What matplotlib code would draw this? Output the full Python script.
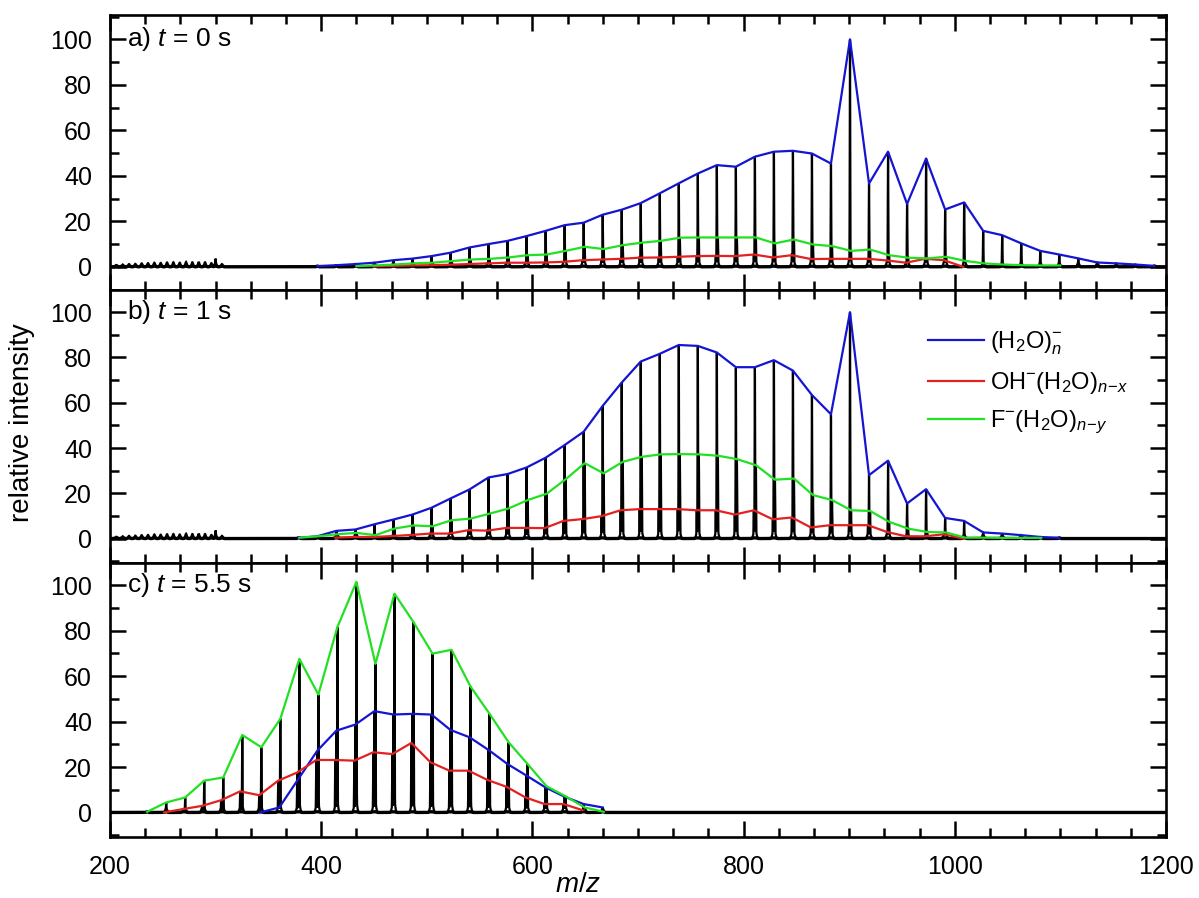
import numpy as np
import matplotlib
matplotlib.use("Agg")
import matplotlib.pyplot as plt
import matplotlib.transforms as mtransforms
from matplotlib.ticker import MultipleLocator

plt.rcParams['font.family'] = ['Liberation Sans', 'DejaVu Sans']
plt.rcParams['mathtext.fontset'] = 'custom'
plt.rcParams['mathtext.rm'] = 'Liberation Sans'
plt.rcParams['mathtext.it'] = 'Liberation Sans:italic'
plt.rcParams['mathtext.bf'] = 'Liberation Sans:bold'

# ---------------- data (relative intensities) ----------------
# cluster sizes n and envelope heights for each panel
A_BLUE_N = list(range(22, 67))
A_BLUE = [0.3, 0.7, 1.2, 1.8, 2.9, 3.6, 4.7, 6.2, 8.5, 10.0, 11.4, 13.5, 15.8, 18.3, 19.4,
          22.9, 25.1, 28.0, 32.3, 36.7, 41.0, 44.7, 44.0, 48.4, 50.6, 51.0, 49.8, 45.4, 100.0,
          36.6, 50.6, 27.6, 47.6, 25.2, 28.3, 15.8, 13.9, 10.3, 7.0, 5.4, 3.7, 1.9, 1.5, 1.0, 0.4]
A_RED_N = list(range(25, 57))
A_RED = [0.2, 0.4, 0.6, 0.7, 0.9, 1.2, 1.5, 1.8, 1.8, 1.9, 2.2, 2.9, 3.2, 3.5, 4.0, 4.1,
         4.4, 4.7, 4.8, 4.7, 5.4, 4.1, 5.1, 3.4, 3.5, 3.5, 3.5, 2.8, 1.8, 3.5, 2.9, 0.0]
A_GREEN_N = list(range(24, 62))
A_GREEN = [0.3, 0.6, 1.0, 1.5, 1.8, 2.5, 3.2, 3.5, 4.1, 5.1, 5.4, 7.0, 8.8, 7.8, 9.5, 10.6,
           11.4, 12.8, 12.9, 12.9, 12.9, 12.9, 10.3, 12.0, 9.8, 9.1, 7.0, 7.6, 5.1, 4.0, 3.7,
           4.4, 2.6, 1.5, 1.0, 0.7, 0.6, 0.6]

B_BLUE_N = list(range(21, 62))
B_BLUE = [0.3, 1.0, 3.4, 4.0, 6.3, 8.4, 10.6, 13.6, 17.7, 21.7, 27.0, 28.5, 31.4, 35.7, 41.3,
          47.2, 58.6, 68.9, 78.2, 81.6, 85.5, 85.1, 82.2, 75.7, 75.7, 78.8, 74.2, 63.4, 54.9,
          100.0, 28.0, 34.4, 15.5, 21.8, 9.1, 7.8, 2.7, 2.2, 1.5, 0.7, 0.3]
B_RED_N = list(range(23, 57))
B_RED = [0.4, 0.7, 0.7, 1.1, 1.6, 2.2, 2.2, 3.7, 3.5, 4.7, 4.7, 4.6, 7.8, 8.6, 9.9, 12.5,
         13.0, 13.0, 13.0, 12.5, 12.5, 10.6, 12.5, 8.5, 9.3, 4.9, 5.9, 5.9, 5.9, 2.9, 1.0,
         1.0, 1.9, 0.0]
B_GREEN_N = list(range(21, 61))
B_GREEN = [0.4, 1.0, 1.9, 2.5, 1.5, 4.4, 5.8, 5.4, 8.1, 8.8, 11.0, 13.3, 17.0, 19.8, 26.2,
           33.3, 28.8, 33.9, 36.1, 37.2, 37.3, 37.2, 36.6, 35.1, 32.4, 26.0, 26.5, 19.2, 17.0,
           12.5, 12.2, 7.4, 4.4, 2.9, 2.7, 0.4, 0.4, 0.3, 0.3, 0.3]

C_BLUE_N = list(range(19, 38))
C_BLUE = [0.0, 2.2, 14.7, 27.2, 36.0, 38.7, 44.6, 43.1, 43.4, 43.1, 36.3, 33.1, 27.5, 21.3,
          16.2, 11.0, 6.9, 3.7, 2.2]
C_RED_N = list(range(14, 37))
C_RED = [0.0, 1.5, 2.9, 5.4, 9.3, 7.6, 14.0, 17.6, 23.1, 23.1, 22.8, 26.5, 25.7, 30.6, 22.1,
         18.4, 18.4, 14.3, 11.3, 6.6, 3.7, 3.7, 1.0]
C_GREEN_N = list(range(13, 38))
C_GREEN = [0.3, 4.4, 6.6, 14.0, 15.4, 34.1, 28.7, 41.2, 67.6, 51.9, 81.6, 101.5, 65.4, 96.3,
           83.8, 69.9, 71.6, 55.4, 43.4, 30.9, 21.3, 11.5, 7.1, 2.2, 0.3]

# small low-mass peaks present in panels a and b
LOW_MZ = [206, 212, 218, 224, 230, 236, 242, 248, 254, 260, 266, 272, 278, 284, 290, 296, 300, 306]
LOW_INT = [0.8, 1.0, 1.2, 1.3, 1.5, 1.6, 1.8, 1.7, 1.9, 2.0, 1.8, 2.1, 2.0, 2.2, 2.0, 1.6, 3.6, 1.2]

PANEL_LABELS = ["a) $t$ = 0 s", "b) $t$ = 1 s", "c) $t$ = 5.5 s"]
LEGEND_LABELS = [r"(H$_2$O)$_n^{-}$", r"OH$^{-}$(H$_2$O)$_{n\!-\!x}$",
                 r"F$^{-}$(H$_2$O)$_{n\!-\!y}$"]

M_W, M_OH, M_F = 18.015, 17.007, 18.998

BLUE_C = '#1414d2'
RED_C = '#e42020'
GREEN_C = '#22e022'


def pos_blue(ns):
    return np.array(ns) * M_W


def pos_red(ns):
    return M_OH + (np.array(ns) - 1) * M_W


def pos_green(ns):
    return M_F + (np.array(ns) - 1) * M_W


def spectrum(x, centers, heights):
    y = np.zeros_like(x)
    for c, h in zip(centers, heights):
        p = h * np.exp(-0.5 * ((x - c) / 0.22) ** 2)
        foot = min(h, 2.0 + 0.03 * h)
        p = np.maximum(p, foot * np.exp(-0.5 * ((x - c) / 0.75) ** 2))
        y = np.maximum(y, p)
    return y


panels = [
    (A_BLUE_N, A_BLUE, A_RED_N, A_RED, A_GREEN_N, A_GREEN, True, (-10.2, 110.7)),
    (B_BLUE_N, B_BLUE, B_RED_N, B_RED, B_GREEN_N, B_GREEN, True, (-10.8, 109.8)),
    (C_BLUE_N, C_BLUE, C_RED_N, C_RED, C_GREEN_N, C_GREEN, False, (-10.8, 109.8)),
]

W, H = 1199, 898
fig = plt.figure(figsize=(W / 100, H / 100), dpi=100)
left_px, right_px = 110, 1166
bounds = [(15, 290), (290, 563), (563, 837)]

x = np.arange(195, 1205, 0.04)
axes = []
for i, (bn, bv, rn, rv, gn, gv, low, ylim) in enumerate(panels):
    top, bot = bounds[i]
    ax = fig.add_axes([left_px / W, 1 - bot / H, (right_px - left_px) / W, (bot - top) / H])
    axes.append(ax)
    centers = list(pos_blue(bn)) + list(pos_red(rn)) + list(pos_green(gn))
    heights = list(bv) + list(rv) + list(gv)
    if low:
        centers += LOW_MZ
        heights += LOW_INT
    y = spectrum(x, centers, heights)
    ax.plot(x, y, color='black', lw=1.6, zorder=2, solid_joinstyle='miter')
    ax.plot(x, np.minimum(y, 0.3), color='black', lw=2.4, zorder=2)
    lb, = ax.plot(pos_blue(bn), bv, color=BLUE_C, lw=1.6, zorder=3)
    lr, = ax.plot(pos_red(rn), rv, color=RED_C, lw=1.6, zorder=3)
    lg, = ax.plot(pos_green(gn), gv, color=GREEN_C, lw=1.6, zorder=3)
    ax.set_xlim(200, 1200)
    ax.set_ylim(*ylim)
    ax.xaxis.set_major_locator(MultipleLocator(200))
    ax.xaxis.set_minor_locator(MultipleLocator(200 / 6))
    ax.yaxis.set_minor_locator(MultipleLocator(10))
    ax.set_yticks([0, 20, 40, 60, 80, 100])
    ax.tick_params(which='both', direction='in', top=True, right=True, width=1.8,
                   labelsize=18)
    ax.tick_params(which='major', length=11.5, pad=13)
    ax.tick_params(which='minor', length=6.5)
    for sp in ax.spines.values():
        sp.set_linewidth(1.9)
    if i < 2:
        ax.tick_params(labelbottom=False)
    trans = mtransforms.blended_transform_factory(ax.transAxes, ax.transData)
    ax.text(0.016, 100, PANEL_LABELS[i], transform=trans, fontsize=19, va='center', ha='left')
    if i == 1:
        ax.legend([lb, lr, lg], LEGEND_LABELS, loc='upper left', bbox_to_anchor=(0.775, 0.855),
                  frameon=False, fontsize=17, handlelength=2.35, handletextpad=0.25,
                  labelspacing=0.55, borderpad=0, borderaxespad=0)

fig.text(22 / W, 1 - 423 / H, 'relative intensity', rotation=90, fontsize=20,
         ha='center', va='center')
fig.text(578 / W, 1 - 885 / H, '$m$/$z$', fontsize=20, ha='center', va='center')

fig.savefig('out.png', dpi=100)
